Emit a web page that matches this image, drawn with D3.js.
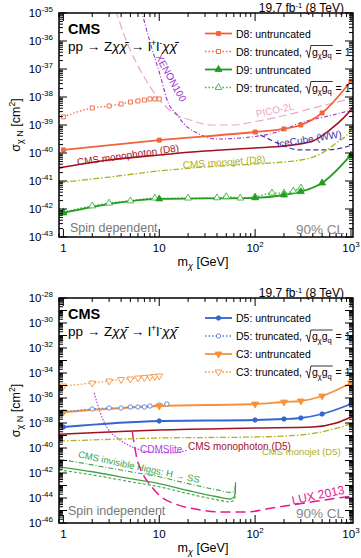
<!DOCTYPE html>
<html><head><meta charset="utf-8">
<script src="https://cdn.jsdelivr.net/npm/d3@7"></script>
<style>body{margin:0;background:#fff}svg{display:block}text{font-family:"Liberation Sans",Arial,sans-serif}</style>
</head><body><svg id="c" width="361" height="558"></svg>
<script>
// ---------- DATA (cross sections given as log10(sigma / cm^2)) ----------
const massUntrunc = [1,10,100,200,300,500,1000];
// Spin dependent panel
const d8Untrunc = [-39.89,-39.54,-39.25,-39.14,-39.0,-38.57,-37.43];
const d9Untrunc = [-42.14,-41.64,-41.6,-41.5,-41.38,-41.07,-40.07];
const d8TruncMass = [1,2,3,4,5,6,7,8,9,10];
const d8Trunc = [-38.71,-38.39,-38.32,-38.25,-38.18,-38.14,-38.11,-38.07,-38.07,-38.07];
const d9TruncMass = [1,2,3,5,9,20,40,50,70,100,150,200,250,300];
const d9Trunc = [-42.11,-41.89,-41.79,-41.71,-41.61,-41.61,-41.6,-41.56,-41.61,-41.57,-41.43,-41.43,-41.36,-41.25];
const monophotonD8Mass = [0.9,3,10,30,100,200,400,600,1000,1050];
const monophotonD8 = [-40.53,-40.25,-40.07,-39.93,-39.82,-39.75,-39.57,-39.18,-38.45,-38.35];
const monojetD8Mass = [0.9,3,10,30,100,300,500,700,1000,1050];
const monojetD8 = [-41.06,-40.86,-40.64,-40.5,-40.39,-40.25,-40.0,-39.64,-39.15,-39.0];
const xenonMass = [6.5,8.06,10.2,12.4,15.4,17.8,24.9,40,89,170,295,650,1050];
const xenon = [-34.9,-36.07,-37.21,-38.21,-38.64,-38.93,-39.29,-39.5,-39.43,-39.25,-38.93,-38.64,-38.46];
const picoMass = [3.5,4.64,6.34,9.53,14,21,34,58.8,95.4,215,443,1050];
const pico = [-34.9,-36.07,-37.04,-38.0,-38.57,-38.82,-39.0,-39.0,-38.89,-38.64,-38.36,-38.04];
const icecubeMass = [95,130,169,294,560,1050];
const icecube = [-39.25,-39.45,-39.64,-39.89,-39.89,-39.71];
// Spin independent panel
const d5Untrunc = [-38.32,-37.84,-37.76,-37.68,-37.6,-37.28,-36.48];
const c3Untrunc = [-37.12,-36.64,-36.48,-36.32,-36.24,-35.84,-34.8];
const d5TruncMass = [1,2,3,4,5,6,7,8,10,12];
const d5Trunc = [-37.12,-36.88,-36.8,-36.8,-36.72,-36.72,-36.72,-36.64,-36.56,-36.48];
const c3TruncMass = [1,2,3,4,5,6,7,8,9,10];
const c3Trunc = [-35.04,-34.8,-34.64,-34.52,-34.48,-34.4,-34.36,-34.32,-34.28,-34.24];
const monophotonD5Mass = [0.9,3,10,100,400,700,1000,1050];
const monophotonD5 = [-38.9,-38.72,-38.56,-38.4,-38.32,-38.0,-37.52,-37.45];
const monojetD5Mass = [0.9,10,100,300,600,1000,1050];
const monojetD5 = [-39.45,-39.2,-39.12,-38.96,-38.56,-38.0,-37.9];
const cdmsMass = [2.1,2.43,2.87,3.66,5.24,8.05,13,20];
const cdms = [-35.6,-37.2,-38.4,-39.2,-39.92,-40.32,-40.4,-40.16];
const luxMass = [5.24,5.5,5.9,6.65,8.05,10.2,14.7,23.7,43.3,78.5,150,330,730,1050];
const lux = [-38.72,-39.76,-40.96,-42.0,-42.96,-43.84,-44.48,-44.88,-45.12,-45.12,-44.8,-44.4,-44.0,-43.84];
const higgsMass = [0.9,2,5,10,20,40,55,60,62,62.5];
const higgsSolid = [-41.5,-41.9,-42.45,-42.85,-43.4,-43.9,-44.08,-43.95,-43.6,-42.8];
const higgsDashDot = [-40.9,-41.35,-41.9,-42.3,-42.85,-43.35,-43.55,-43.5,-43.2,-42.6];
const higgsDashed = [-41.75,-42.15,-42.7,-43.1,-43.65,-44.15,-44.3,-44.2,-43.8,-42.9];
const xTickLabels = [{m:1,b:"1",s:""},{m:10,b:"10",s:""},{m:100,b:"10",s:"2"},{m:1000,b:"10",s:"3"}];

// ---------- COLOURS ----------
const C = {d8:"#f2643a", d9:"#1f9e1f", d9t:"#3cb43c", d5:"#3366cc", d5t:"#5a7fd8", c3:"#f7923a",
  mph:"#a3111f", mjet:"#b0b022", xenon:"#9b30d0", pico:"#f2a2c8", ice:"#3b34a8",
  cdms:"#b43ce6", lux:"#e8178e", higgs:"#43a047", grey:"#808080"};

const svg = d3.select("#c");
const L = 59, R = 353;
const xs = d3.scaleLog().domain([0.9,1050]).range([L,R]);
const SYM = {sq:16, tri:20, circ:15};

function zip(ms, vs){ return ms.map((m,i)=>[m, Math.pow(10, vs[i])]); }
function symSize(type){ return type===d3.symbolCircle?SYM.circ:(type===d3.symbolSquare?SYM.sq:SYM.tri); }

function panel(id, top, bot, eMin, eMax, labelStep){
  const ys = d3.scaleLog().domain([Math.pow(10,eMin), Math.pow(10,eMax)]).range([bot, top]);
  const g = svg.append("g");
  g.append("clipPath").attr("id", id).append("rect").attr("x",L).attr("y",top).attr("width",R-L).attr("height",bot-top);
  const plot = g.append("g").attr("clip-path", `url(#${id})`);
  const line = d3.line().x(d=>xs(d[0])).y(d=>ys(d[1])).curve(d3.curveMonotoneX);
  const tk = g.append("g").attr("stroke","#000").attr("stroke-width",1);
  for(let dec=-1; dec<=3; dec++) for(let k=1;k<=9;k++){
    const m = k*Math.pow(10,dec); if(m<0.9||m>1050) continue;
    const x = xs(m), len = k===1?8:4;
    tk.append("line").attr("x1",x).attr("x2",x).attr("y1",bot).attr("y2",bot-len);
    tk.append("line").attr("x1",x).attr("x2",x).attr("y1",top).attr("y2",top+len);
  }
  for(let e=eMin; e<=eMax; e++) for(let k=1;k<=9;k++){
    if(e===eMax && k>1) continue;
    const y = ys(k*Math.pow(10,e)), len = k===1?8:4;
    tk.append("line").attr("x1",L).attr("x2",L+len).attr("y1",y).attr("y2",y);
    tk.append("line").attr("x1",R).attr("x2",R-len).attr("y1",y).attr("y2",y);
  }
  g.append("rect").attr("x",L).attr("y",top).attr("width",R-L).attr("height",bot-top)
    .attr("fill","none").attr("stroke","#000").attr("stroke-width",1.5);
  for(let e=eMin; e<=eMax; e+=labelStep){
    const t = g.append("text").attr("x",53).attr("y",ys(Math.pow(10,e))+4).attr("text-anchor","end").attr("font-size",11.5);
    t.append("tspan").text("10");
    t.append("tspan").attr("font-size",8).attr("dy",-5).text(String(e));
  }
  xTickLabels.forEach(d=>{
    const t = g.append("text").attr("x",xs(d.m)).attr("y",bot+15).attr("text-anchor","middle").attr("font-size",11.5);
    t.append("tspan").text(d.b);
    if(d.s) t.append("tspan").attr("font-size",8).attr("dy",-5).text(d.s);
  });
  const xt = g.append("text").attr("x",203).attr("y",bot+29).attr("text-anchor","middle").attr("font-size",12.5);
  xt.append("tspan").text("m");
  xt.append("tspan").attr("font-size",9).attr("dy",3).attr("font-style","italic").text("χ");
  xt.append("tspan").attr("dy",-3).text(" [GeV]");
  const cy = (top+bot)/2;
  const yt = g.append("text").attr("transform",`translate(20,${cy}) rotate(-90)`).attr("text-anchor","middle").attr("font-size",12.5);
  yt.append("tspan").text("σ");
  yt.append("tspan").attr("font-size",9).attr("dy",3).text("χ N");
  yt.append("tspan").attr("dy",-3).text(" [cm");
  yt.append("tspan").attr("font-size",8.5).attr("dy",-5).text("2");
  yt.append("tspan").attr("dy",5).text("]");
  const hd = g.append("text").attr("x",344).attr("y",top-1.5).attr("text-anchor","end").attr("font-size",12);
  hd.append("tspan").text("19.7 fb");
  hd.append("tspan").attr("font-size",7.5).attr("dy",-3.5).text("-1");
  hd.append("tspan").attr("dy",3.5).text(" (8 TeV)");
  g.append("text").attr("x",68).attr("y",top+21).attr("font-size",14.5).attr("font-weight","bold").text("CMS");
  const f = g.append("text").attr("x",68).attr("y",top+38).attr("font-size",13.5);
  f.append("tspan").text("pp → Z");
  f.append("tspan").attr("font-style","italic").text("χχ̄");
  f.append("tspan").text(" → l");
  f.append("tspan").attr("font-size",9).attr("dy",-5).text("+");
  f.append("tspan").attr("dy",5).text("l");
  f.append("tspan").attr("font-size",9).attr("dy",-5).text("-");
  f.append("tspan").attr("dy",5).attr("font-style","italic").text("χχ̄");
  return {g, plot, ys, line};
}

function curve(P, ms, vs, color, width, dash){
  P.plot.append("path").attr("d", P.line(zip(ms,vs))).attr("fill","none")
    .attr("stroke",color).attr("stroke-width",width).attr("stroke-dasharray",dash||null);
}
function markers(P, ms, vs, type, color, filled, rot){
  const sym = d3.symbol().type(type).size(symSize(type));
  P.plot.selectAll(null).data(zip(ms,vs)).enter().append("path").attr("d",sym())
    .attr("transform",d=>`translate(${xs(d[0])},${P.ys(d[1])}) rotate(${rot||0})`)
    .attr("fill",filled?color:"#fff").attr("stroke",color).attr("stroke-width",0.9);
}
function label(g, txt, x, y, color, size, rot, anchor){
  g.append("text").attr("transform",`translate(${x},${y}) rotate(${rot||0})`).attr("text-anchor",anchor||"middle")
    .attr("dy","0.35em").attr("font-size",size).attr("fill",color).text(txt);
}
function legend(g, y0, entries){
  entries.forEach((e,i)=>{
    const y = y0 + i*18;
    g.append("line").attr("x1",205).attr("x2",232).attr("y1",y).attr("y2",y).attr("stroke",e.color)
      .attr("stroke-width",e.dash?1.3:1.8).attr("stroke-dasharray",e.dash||null);
    const sym = d3.symbol().type(e.type).size(symSize(e.type));
    g.append("path").attr("d",sym()).attr("transform",`translate(218.5,${y}) rotate(${e.rot||0})`)
      .attr("fill",e.filled?e.color:"#fff").attr("stroke",e.color).attr("stroke-width",0.9);
    const by = y+4;
    const t1 = g.append("text").attr("x",236).attr("y",by).attr("font-size",10.5).attr("xml:space","preserve").text(e.text);
    if(e.sqrt){
      const xx = 236 + t1.node().getComputedTextLength();
      const t2 = g.append("text").attr("x",xx+7).attr("y",by).attr("font-size",10.5);
      t2.append("tspan").text("g");
      t2.append("tspan").attr("font-size",7.5).attr("dy",2.5).text("χ");
      t2.append("tspan").attr("dy",-2.5).text("g");
      t2.append("tspan").attr("font-size",7.5).attr("dy",2.5).text("q");
      const w2 = t2.node().getComputedTextLength();
      g.append("path").attr("d",`M${xx+0.5},${by-4} L${xx+2},${by-5} L${xx+4},${by+2} L${xx+6},${by-10} L${xx+8+w2},${by-10}`)
        .attr("fill","none").attr("stroke","#000").attr("stroke-width",0.8);
      g.append("text").attr("x",xx+8+w2).attr("y",by).attr("font-size",10.5).attr("xml:space","preserve").text(" = 1");
    }
  });
}

// ---------- TOP PANEL: spin dependent ----------
const P1 = panel("clipTop", 13, 237, -43, -35, 1);
curve(P1, picoMass, pico, C.pico, 1.2, "8,4");
curve(P1, xenonMass, xenon, C.xenon, 1.1, "4,2,1,2");
curve(P1, icecubeMass, icecube, C.ice, 1.2, "5,3");
curve(P1, monophotonD8Mass, monophotonD8, C.mph, 1.6);
curve(P1, monojetD8Mass, monojetD8, C.mjet, 1.3, "6,2,1.5,2");
curve(P1, d8TruncMass, d8Trunc, C.d8, 1.2, "1.5,2");
curve(P1, massUntrunc, d8Untrunc, C.d8, 1.8);
curve(P1, d9TruncMass, d9Trunc, C.d9t, 1.3, "1.5,2");
curve(P1, massUntrunc, d9Untrunc, C.d9, 1.8);
markers(P1, d8TruncMass, d8Trunc, d3.symbolSquare, C.d8, false);
markers(P1, massUntrunc, d8Untrunc, d3.symbolSquare, C.d8, true);
markers(P1, d9TruncMass, d9Trunc, d3.symbolTriangle, C.d9t, false);
markers(P1, massUntrunc, d9Untrunc, d3.symbolTriangle, C.d9, true);
label(P1.g, "XENON100", 171, 78, C.xenon, 10, 61);
label(P1.g, "PICO-2L", 275, 110, C.pico, 10, -12);
label(P1.g, "IceCube (WW)", 309, 139, C.ice, 10, -9);
label(P1.g, "CMS monophoton (D8)", 128, 155, C.mph, 10, -8);
label(P1.g, "CMS monojet (D8)", 224, 162, C.mjet, 10, -4);
P1.g.append("text").attr("x",70).attr("y",232).attr("font-size",12.5).attr("fill","#777").text("Spin dependent");
P1.g.append("text").attr("x",344).attr("y",234).attr("text-anchor","end").attr("font-size",13.5).attr("fill","#888").text("90% CL");
legend(P1.g, 33.5, [
  {text:"D8: untruncated", color:C.d8, type:d3.symbolSquare, filled:true},
  {text:"D8: truncated, ", color:C.d8, dash:"1.5,2", type:d3.symbolSquare, filled:false, sqrt:true},
  {text:"D9: untruncated", color:C.d9, type:d3.symbolTriangle, filled:true},
  {text:"D9: truncated, ", color:C.d9t, dash:"1.5,2", type:d3.symbolTriangle, filled:false, sqrt:true}
]);

// ---------- BOTTOM PANEL: spin independent ----------
const P2 = panel("clipBot", 298, 523, -46, -28, 2);
curve(P2, luxMass, lux, C.lux, 1.5, "10,5");
curve(P2, cdmsMass, cdms, C.cdms, 1.2, "1.5,1.5");
curve(P2, higgsMass, higgsDashDot, C.higgs, 1.1, "5,2,1,2");
curve(P2, higgsMass, higgsSolid, C.higgs, 1.3);
curve(P2, higgsMass, higgsDashed, C.higgs, 1.1, "3,2");
curve(P2, monojetD5Mass, monojetD5, C.mjet, 1.3, "6,2,1.5,2");
curve(P2, monophotonD5Mass, monophotonD5, C.mph, 1.6);
curve(P2, massUntrunc, c3Untrunc, C.c3, 1.8);
curve(P2, massUntrunc, d5Untrunc, C.d5, 1.8);
curve(P2, c3TruncMass, c3Trunc, C.c3, 1.2, "1.5,2");
curve(P2, d5TruncMass, d5Trunc, C.d5t, 1.2, "1.5,2");
markers(P2, c3TruncMass, c3Trunc, d3.symbolTriangle, C.c3, false, 180);
markers(P2, d5TruncMass, d5Trunc, d3.symbolCircle, C.d5t, false);
markers(P2, massUntrunc, c3Untrunc, d3.symbolTriangle, C.c3, true, 180);
markers(P2, massUntrunc, d5Untrunc, d3.symbolCircle, C.d5, true);
label(P2.g, "CDMSlite", 140, 449, C.cdms, 10, 0, "start");
label(P2.g, "CMS monophoton (D5)", 188, 446, C.mph, 10, 0, "start");
label(P2.g, "CMS monojet (D5)", 262, 452, C.mjet, 9.5, 0, "start");
label(P2.g, "CMS invisible Higgs: H → SS", 139, 467, C.higgs, 9.5, 12);
label(P2.g, "LUX 2013", 318, 495, C.lux, 12, -12);
P2.g.append("text").attr("x",68).attr("y",515).attr("font-size",12.5).attr("fill","#777").text("Spin independent");
P2.g.append("text").attr("x",344).attr("y",518).attr("text-anchor","end").attr("font-size",13.5).attr("fill","#888").text("90% CL");
legend(P2.g, 318, [
  {text:"D5: untruncated", color:C.d5, type:d3.symbolCircle, filled:true},
  {text:"D5: truncated, ", color:C.d5t, dash:"1.5,2", type:d3.symbolCircle, filled:false, sqrt:true},
  {text:"C3: untruncated", color:C.c3, type:d3.symbolTriangle, filled:true, rot:180},
  {text:"C3: truncated, ", color:C.c3, dash:"1.5,2", type:d3.symbolTriangle, filled:false, rot:180, sqrt:true}
]);
</script></body></html>
